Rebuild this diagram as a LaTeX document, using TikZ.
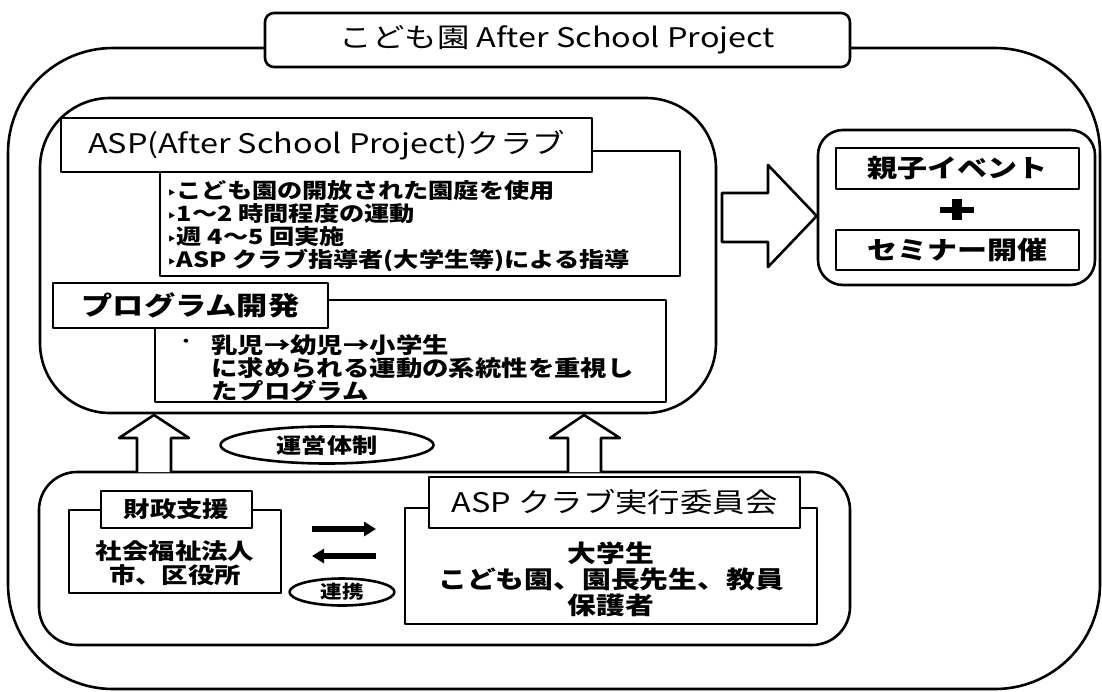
\documentclass[tikz,border=0pt]{standalone}
\usepackage{fontspec}
\newfontfamily\jp[FakeStretch=1.2]{Noto Sans CJK JP}
\newfontfamily\dv{DejaVu Sans}
\usetikzlibrary{shapes.geometric,arrows.meta}
\tikzset{
  ln/.style={line width=2.6pt, line join=round},
  rbox/.style={ln, draw, rounded corners=#1},
  hbox/.style={ln, draw, fill=white, inner sep=0pt},
  oval/.style={ln, draw, ellipse, inner sep=0pt, fill=white},
  barrow/.style={ln, draw, fill=white},
  tarrow/.style={line width=6.5pt, -{Triangle[length=12pt,width=14pt]}},
  bt/.style={font=\jp\bfseries\fontsize{#1}{#1}\selectfont},
  rt/.style={font=\jp\fontsize{#1}{#1}\selectfont},
}
\newcommand{\tri}{{\dv\fontsize{15}{15}\selectfont ‣}}
\begin{document}
\begin{tikzpicture}[x=1pt,y=-1pt]
\useasboundingbox (0,0) rectangle (1102,691);
% outer frame
\draw[rbox=105] (8,48) rectangle (1100,689);
\node[hbox, rounded corners=9, minimum width=585pt, minimum height=54pt, rt=27] (title) at (557.5,40) {こども園 After School Project};

% upper inner box
\draw[rbox=70] (40,98) rectangle (716,413);
\coordinate (upbot1) at (154,415);
\coordinate (upbot2) at (584,415);
% ASP club
\node[hbox, minimum width=531pt, minimum height=54pt, rt=27] (asp) at (326.5,145) {ASP(After School Project)クラブ};
\draw[ln] (asp.east |- 0,151) -- (680,151) -- (680,276) -- (160,276) -- (160,172);
\node[anchor=north west, align=left, bt=21, inner sep=0pt] (asptext) at (167,180)
 {\tri こども園の開放された園庭を使用\\[2pt]
  \tri 1～2 時間程度の運動\\[2pt]
  \tri 週 4～5 回実施\\[2pt]
  \tri ASP クラブ指導者(大学生等)による指導};
% program
\node[hbox, minimum width=275pt, minimum height=45pt, bt=26] (prog) at (190.5,305.5) {プログラム開発};
\draw[ln] (prog.east |- 0,300) -- (666,300) -- (666,402) -- (155,402) -- (155,328);
\node[bt=14, inner sep=0pt] (pbul) at (186,343) {・};
\node[anchor=north west, align=left, bt=22, inner sep=0pt] (progtext) at (211,334)
 {乳児→幼児→小学生\\[1pt]
  に求められる運動の系統性を重視し\\[1pt]
  たプログラム};

% right box
\node[rbox=25, minimum width=277pt, minimum height=155pt] (res) at (956.5,207.5) {};
\node[hbox, minimum width=243pt, minimum height=41pt, bt=25] (ev) at (957.5,168.5) {親子イベント};
\node[hbox, minimum width=243pt, minimum height=40pt, bt=25] (sem) at (957.5,250) {セミナー開催};
\fill (940,207) rectangle (974,213);
\fill (952,199) rectangle (962,220);
% big arrow
\draw[barrow] (722,193) -- (768,193) -- (768,165) -- (res.west |- 0,216) -- (768,267) -- (768,242) -- (722,242) -- cycle;

% bottom box
\draw[rbox=38] (39,472) rectangle (850,645);
% up arrows
\draw[barrow] (137,472) -- (137,438) -- (119,438) -- (upbot1) -- (189,438) -- (171,438) -- (171,472);
\draw[barrow] (568,472) -- (568,438) -- (550,438) -- (upbot2) -- (620,438) -- (601,438) -- (601,472);
\node[oval, minimum width=213pt, minimum height=37pt, bt=21] (un) at (327,445) {運営体制};

% finance
\node[hbox, minimum width=151pt, minimum height=37pt, bt=22] (fin) at (176.5,509.5) {財政支援};
\draw[ln] (fin.west |- 0,510) -- (69,510) -- (69,593) -- (281,593) -- (281,510) -- (fin.east |- 0,510);
\node[bt=22, align=center, inner sep=0pt] (fintext) at (175,563) {社会福祉法人\\[2pt]市、区役所};

% committee
\node[hbox, minimum width=371pt, minimum height=51pt, rt=27] (com) at (614.5,502.5) {ASP クラブ実行委員会};
\draw[ln] (com.west |- 0,508) -- (405,508) -- (405,624) -- (817,624) -- (817,508) -- (com.east |- 0,508);
\node[bt=24, align=center, inner sep=0pt] (comtext) at (611,579) {大学生\\[2pt]こども園、園長先生、教員\\[2pt]保護者};

% double arrows
\coordinate (a1) at (312,529);
\coordinate (a2) at (376,529);
\coordinate (b1) at (376,556);
\coordinate (b2) at (312,556);
\draw[tarrow] (a1) -- (a2);
\draw[tarrow] (b1) -- (b2);
\node[oval, minimum width=105pt, minimum height=27pt, bt=18] (ren) at (342,592) {連携};
\end{tikzpicture}
\end{document}
